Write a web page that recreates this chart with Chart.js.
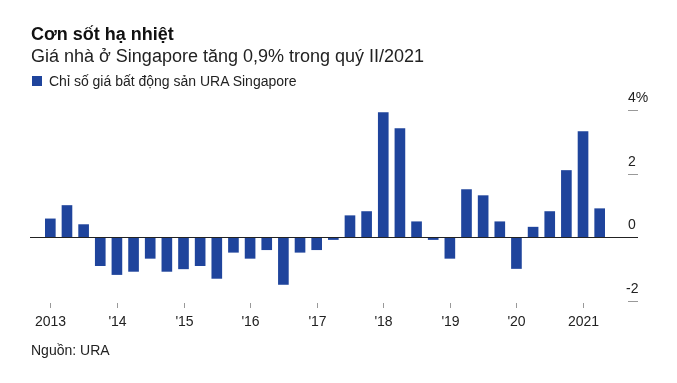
<!DOCTYPE html>
<html>
<head>
<meta charset="utf-8">
<script src="https://cdn.jsdelivr.net/npm/chart.js@4/dist/chart.umd.min.js"></script>
<style>
  html, body { margin: 0; padding: 0; background: #fff; }
  #wrap { position: relative; width: 677px; height: 383px; overflow: hidden; font-family: "Liberation Sans", Arial, Helvetica, sans-serif; }
  canvas { position: absolute; left: 0; top: 0; }
  .t { position: absolute; white-space: nowrap; line-height: normal; }
  #title { left: 31px; top: 24px; font-size: 18px; font-weight: bold; color: #111; }
  #subtitle { left: 31px; top: 46px; font-size: 18px; color: #222; }
  #swatch { position: absolute; left: 32px; top: 76px; width: 10px; height: 10px; background: #1f449c; }
  #legend { left: 49px; top: 73px; font-size: 14px; color: #222; }
  #source { left: 31px; top: 342px; font-size: 14px; color: #222; }
</style>
</head>
<body>
<div id="wrap">
  <canvas id="c" width="677" height="383"></canvas>
  <div class="t" id="title">Cơn sốt hạ nhiệt</div>
  <div class="t" id="subtitle">Giá nhà ở Singapore tăng 0,9% trong quý II/2021</div>
  <div id="swatch"></div>
  <div class="t" id="legend">Chỉ số giá bất động sản URA Singapore</div>
  <div class="t" id="source">Nguồn: URA</div>
</div>
<script>
// Quarterly categories 2013 Q1 .. 2021 Q2
const years = [2013, 2014, 2015, 2016, 2017, 2018, 2019, 2020, 2021];
const quarters = [];
years.forEach(y => { for (let q = 1; q <= 4; q++) { if (y === 2021 && q > 2) break; quarters.push(y + ' Q' + q); } });

// Quarter-on-quarter change of URA private residential price index (%)
const values = [
  0.59, 1.01, 0.41, -0.90,
  -1.18, -1.08, -0.67, -1.08,
  -1.00, -0.90, -1.30, -0.48,
  -0.67, -0.40, -1.49, -0.48,
  -0.40, -0.08, 0.69, 0.82,
  3.93, 3.43, 0.50, -0.08,
  -0.67, 1.51, 1.32, 0.50,
  -0.99, 0.33, 0.82, 2.11,
  3.33, 0.91
];

const xTickLabels = ["2013", "'14", "'15", "'16", "'17", "'18", "'19", "'20", "2021"];
const yTickValues = [4, 2, 0, -2];
const yTickLabels = ["4%", "2", "0", "-2"];

const FONT = '"Liberation Sans", Arial, Helvetica, sans-serif';
const BAR = '#1f449c';

const overlay = {
  id: 'overlay',
  afterDatasetsDraw(chart) {
    const ctx = chart.ctx;
    const xs = chart.scales.x, ys = chart.scales.y;
    ctx.save();
    // zero line
    const y0 = Math.round(ys.getPixelForValue(0)) + 0.5;
    ctx.strokeStyle = '#222';
    ctx.lineWidth = 1;
    ctx.beginPath();
    ctx.moveTo(30, y0);
    ctx.lineTo(638, y0);
    ctx.stroke();
    // y ticks + labels at right
    ctx.font = '14px ' + FONT;
    ctx.textAlign = 'left';
    ctx.textBaseline = 'alphabetic';
    yTickValues.forEach((v, i) => {
      const py = Math.round(ys.getPixelForValue(v)) + 0.5;
      if (v !== 0) {
        ctx.strokeStyle = '#999';
        ctx.beginPath();
        ctx.moveTo(628, py);
        ctx.lineTo(638, py);
        ctx.stroke();
      }
      ctx.fillStyle = '#222';
      ctx.fillText(yTickLabels[i], v < 0 ? 626 : 628, py - 9);
    });
    // x ticks + labels (at first quarter of each year)
    ctx.textAlign = 'center';
    ctx.textBaseline = 'middle';
    xTickLabels.forEach((lab, i) => {
      const px = Math.round(xs.getPixelForValue(i * 4)) + 0.5;
      ctx.strokeStyle = '#999';
      ctx.beginPath();
      ctx.moveTo(px, 303);
      ctx.lineTo(px, 308);
      ctx.stroke();
      ctx.fillStyle = '#222';
      ctx.fillText(lab, px, 322);
    });
    ctx.restore();
  }
};

new Chart(document.getElementById('c'), {
  type: 'bar',
  data: {
    labels: quarters,
    datasets: [{
      label: 'Chỉ số giá bất động sản URA Singapore',
      data: values,
      backgroundColor: BAR,
      borderWidth: 0,
      barPercentage: 0.64,
      categoryPercentage: 1.0
    }]
  },
  options: {
    responsive: false,
    animation: false,
    devicePixelRatio: 1,
    layout: { padding: { left: 42, right: 69, top: 110, bottom: 82 } },
    plugins: { legend: { display: false }, title: { display: false }, tooltip: { enabled: false } },
    scales: {
      x: { display: false, offset: true, grid: { display: false } },
      y: { display: false, min: -2, max: 4, grid: { display: false } }
    }
  },
  plugins: [overlay]
});
</script>
</body>
</html>
